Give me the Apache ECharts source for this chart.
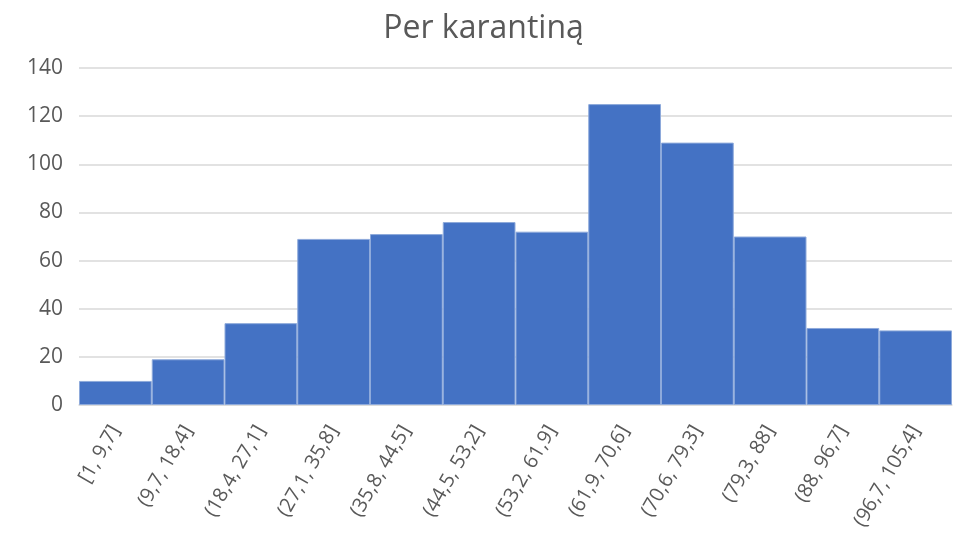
<!DOCTYPE html>
<html>
<head>
<meta charset="utf-8">
<script src="https://cdn.jsdelivr.net/npm/echarts@6/dist/echarts.min.js"></script>
<style>
  html, body { margin: 0; padding: 0; background: #fff; }
  #chart { width: 967px; height: 544px; }
</style>
</head>
<body>
<div id="chart"></div>
<script>
// intervalai ir dažniai
const categories = ['[1, 9,7]', '(9,7, 18,4]', '(18,4, 27,1]', '(27,1, 35,8]', '(35,8, 44,5]', '(44,5, 53,2]',
  '(53,2, 61,9]', '(61,9, 70,6]', '(70,6, 79,3]', '(79,3, 88]', '(88, 96,7]', '(96,7, 105,4]']
const counts = [10, 19, 34, 69, 71, 76, 72, 125, 109, 70, 32, 31]

const chart = echarts.init(document.getElementById('chart'))
chart.setOption({
  animation: false,
  title: {
    text: 'Per karantiną',
    left: 'center',
    top: 8,
    textStyle: { color: '#595959', fontSize: 32, fontWeight: 'normal', fontFamily: 'Open Sans' }
  },
  grid: { left: 79, right: 15, top: 68, bottom: 139 },
  xAxis: {
    type: 'category',
    data: categories,
    axisLine: { lineStyle: { color: '#d9d9d9', width: 1.5 } },
    axisTick: { show: false },
    axisLabel: {
      interval: 0,
      rotate: 60,
      color: '#595959',
      fontSize: 20,
      fontFamily: 'Open Sans',
      margin: 22
    }
  },
  yAxis: {
    type: 'value',
    min: 0,
    max: 140,
    interval: 20,
    axisLine: { show: false },
    axisTick: { show: false },
    axisLabel: { color: '#595959', fontSize: 21, fontFamily: 'Open Sans', margin: 16 },
    splitLine: { lineStyle: { color: '#d9d9d9', width: 1.5 } }
  },
  series: [{
    type: 'bar',
    data: counts,
    barCategoryGap: 0,
    itemStyle: { color: '#4472C4', borderColor: '#8eaadb', borderWidth: 1 }
  }]
})
</script>
</body>
</html>
